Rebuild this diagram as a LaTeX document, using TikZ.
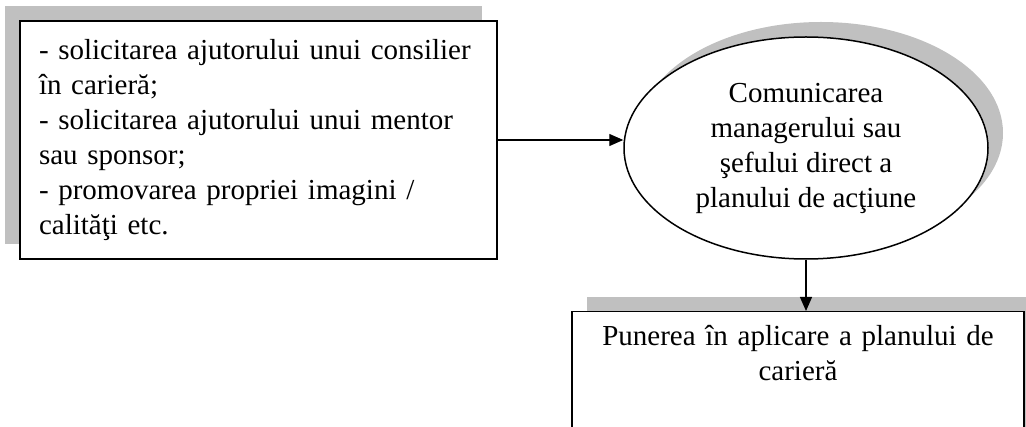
\documentclass[tikz,border=0pt]{standalone}
\usepackage{fontspec}
\setmainfont{Liberation Serif}
\usetikzlibrary{arrows.meta,shapes.geometric,shadows}
\definecolor{shadowgray}{RGB}{192,192,192}
\tikzset{
  every picture/.style={x=1pt,y=-1pt},
  txt/.style={font=\fontsize{29}{35}\selectfont},
  boxshape/.style={draw=black,line width=1.5pt,fill=white,rectangle,txt},
  shadowUL/.style={general shadow={shadow xshift=-15pt,shadow yshift=15pt,fill=shadowgray,draw=none}},
  shadowUR/.style={general shadow={shadow xshift=15pt,shadow yshift=15pt,fill=shadowgray,draw=none}},
  conn/.style={draw=black,line width=1.3pt,-{Triangle[length=14pt,width=12pt]}},
}
\begin{document}
\begin{tikzpicture}
\useasboundingbox (0,0) rectangle (1026,427);
\clip (0,0) rectangle (1026,427);
\fill[white] (0,0) rectangle (1026,427);
\node[boxshape,shadowUL,minimum width=477pt,minimum height=238pt,text width=439pt,align=left,inner sep=0pt]
  (left) at (258.5,140)
  {- solicitarea ajutorului unui consilier\\în carieră;\\- solicitarea ajutorului unui mentor\\sau sponsor;\\- promovarea propriei imagini /\\calităţi etc.};
\node[draw=black,line width=1.5pt,fill=white,ellipse,shadowUR,minimum width=364pt,minimum height=222pt,inner sep=0pt,align=center,txt]
  (ell) at (806,148)
  {Comunicarea\\managerului sau\\şefului direct a\\planului de acţiune};
\node[boxshape,shadowUR,anchor=north,text width=440pt,align=center,inner xsep=6pt,inner ysep=14pt,text depth=150pt]
  (box3) at (798,311)
  {Punerea în aplicare a planului de\\carieră};
\draw[conn] (left.east) -- (ell.west |- left.east);
\draw[conn] (ell.south) -- (ell.south |- box3.north);
\end{tikzpicture}
\end{document}
